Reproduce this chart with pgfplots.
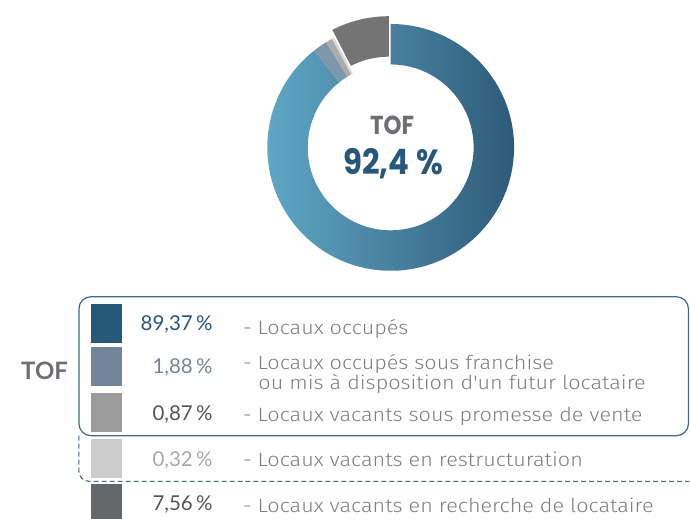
\documentclass[border=0pt]{standalone}
\usepackage{pgfplots}
\pgfplotsset{compat=1.18}
\usepackage{pgfplotstable}
\usepackage{fontspec}
\setmainfont{Lato}
\newfontfamily\lightf{Fira Sans Light}[FakeStretch=1.12]
\newfontfamily\popf{Poppins}[FakeStretch=0.88]
\definecolor{cA}{HTML}{26587A}
\definecolor{cB}{HTML}{72859B}
\definecolor{cC}{HTML}{9B9B9B}
\definecolor{cD}{HTML}{CCCCCC}
\definecolor{cE}{HTML}{63676A}
\definecolor{dB}{HTML}{7F97AC}
\definecolor{dC}{HTML}{ABABAB}
\definecolor{dD}{HTML}{D9D9D9}
\definecolor{dE}{HTML}{747474}
\definecolor{gL}{HTML}{62ACCA}
\definecolor{gR}{HTML}{2B5674}
\definecolor{boxc}{HTML}{3F6A88}
\definecolor{txt}{HTML}{7E7E7E}
\definecolor{numdark}{HTML}{555555}
\definecolor{numlight}{HTML}{A8A8A8}
\definecolor{tofgray}{HTML}{6D6E71}

\pgfplotstableread{
idx value
0 89.37
1 1.88
2 0.87
3 0.32
4 7.56
}\tofdata

\newcommand\pct[1]{\pgfmathprintnumber[fixed,fixed zerofill,precision=2,use comma,assume math mode=true]{#1}\,\%}

\begin{document}
\begin{tikzpicture}
\pgfplotstablegetelem{0}{value}\of\tofdata \edef\vA{\pgfplotsretval}
\pgfplotstablegetelem{1}{value}\of\tofdata \edef\vB{\pgfplotsretval}
\pgfplotstablegetelem{2}{value}\of\tofdata \edef\vC{\pgfplotsretval}
\pgfplotstablegetelem{3}{value}\of\tofdata \edef\vD{\pgfplotsretval}
\pgfplotstablegetelem{4}{value}\of\tofdata \edef\vE{\pgfplotsretval}
\pgfmathsetmacro\aA{90}
\pgfmathsetmacro\aB{\aA+3.6*\vE}
\pgfmathsetmacro\aC{\aB+3.6*\vD}
\pgfmathsetmacro\aD{\aC+3.6*\vC}
\pgfmathsetmacro\aE{\aD+3.6*\vB}
\pgfmathsetmacro\aF{\aE+3.6*\vA}
\pgfmathsetmacro\aM{(\aA+\aB)/2}
\begin{axis}[
  width=690pt, height=519pt, scale only axis,
  xmin=0, xmax=690, ymin=0, ymax=519,
  hide axis, clip=false,
]
\path (rel axis cs:0,0) rectangle (rel axis cs:1,1);
% donut
\begin{scope}[shift={(axis cs:391,371.5)}]
  \shade[left color=gL, right color=gR] (\aE:123.5pt) arc[start angle=\aE, end angle=\aF, radius=123.5pt] -- (\aF:83pt) arc[start angle=\aF, end angle=\aE, radius=83pt] -- cycle;
  \fill[dB] (\aD:123.5pt) arc[start angle=\aD, end angle=\aE, radius=123.5pt] -- (\aE:83pt) arc[start angle=\aE, end angle=\aD, radius=83pt] -- cycle;
  \fill[dC] (\aC:123.5pt) arc[start angle=\aC, end angle=\aD, radius=123.5pt] -- (\aD:83pt) arc[start angle=\aD, end angle=\aC, radius=83pt] -- cycle;
  \fill[dD] (\aB:123.5pt) arc[start angle=\aB, end angle=\aC, radius=123.5pt] -- (\aC:83pt) arc[start angle=\aC, end angle=\aB, radius=83pt] -- cycle;
  \begin{scope}[shift={(\aM:8pt)}]
  \fill[dE] (\aA:123.5pt) arc[start angle=\aA, end angle=\aB, radius=123.5pt] -- (\aB:83pt) arc[start angle=\aB, end angle=\aA, radius=83pt] -- cycle;
  \end{scope}
\end{scope}
\node[anchor=base, text=tofgray, font=\popf\bfseries\fontsize{26}{30}\selectfont, inner sep=0pt] at (axis cs:392.5,384) {TOF};
\node[anchor=base, text=cA, font=\popf\bfseries\fontsize{35}{40}\selectfont, inner sep=0pt] at (axis cs:393.5,344) {92,4 \%};
% boxes
\draw[boxc, line width=1.2pt, rounded corners=12pt] (axis cs:79,222) rectangle (axis cs:689,83);
\draw[boxc, line width=1.1pt, dash pattern=on 5pt off 3pt, rounded corners=10pt] (axis cs:79,83) -- (axis cs:79,37.3) -- (axis cs:690,37.3);
% squares
\fill[cA] (axis cs:91,215) rectangle (axis cs:122,176);
\fill[cB] (axis cs:91,172) rectangle (axis cs:122,133);
\fill[cC] (axis cs:91,126) rectangle (axis cs:122,87);
\fill[cD] (axis cs:91,80) rectangle (axis cs:122,41);
\fill[cE] (axis cs:91,35) rectangle (axis cs:122,0);
% numbers
\begin{scope}[every node/.style={anchor=base east, inner sep=0pt, font=\fontsize{20.5}{24}\selectfont}]
\node[text=cA] at (axis cs:213,188) {\pct{\vA}};
\node[text=cB] at (axis cs:213,145) {\pct{\vB}};
\node[text=numdark] at (axis cs:213,98) {\pct{\vC}};
\node[text=numlight] at (axis cs:213,52) {\pct{\vD}};
\node[text=numdark] at (axis cs:213,8) {\pct{\vE}};
\end{scope}
% labels
\begin{scope}[every node/.style={anchor=base west, inner sep=0pt, text=txt, font=\lightf\fontsize{19.3}{22}\selectfont}]
\node at (axis cs:243,184) {- Locaux occupés};
\node at (axis cs:243,149.5) {- Locaux occupés sous franchise};
\node at (axis cs:258.5,129.5) {ou mis à disposition d'un futur locataire};
\node at (axis cs:243,97.3) {- Locaux vacants sous promesse de vente};
\node at (axis cs:243,52) {- Locaux vacants en restructuration};
\node at (axis cs:243,6) {- Locaux vacants en recherche de locataire};
\end{scope}
\node[anchor=base west, inner sep=0pt, text=tofgray, font=\bfseries\fontsize{24}{28}\selectfont] at (axis cs:21,139) {TOF};
\end{axis}
\end{tikzpicture}
\end{document}
